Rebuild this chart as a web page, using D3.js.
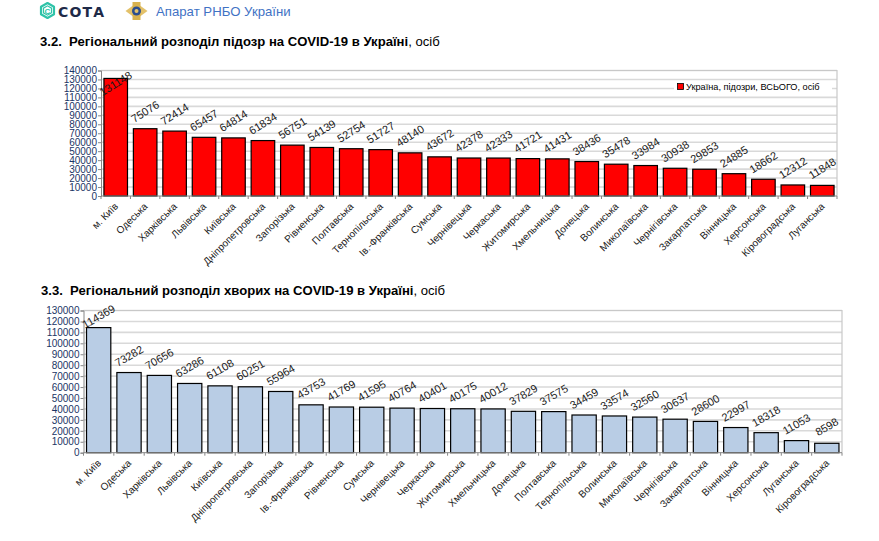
<!DOCTYPE html>
<html><head><meta charset="utf-8">
<script src="https://cdn.jsdelivr.net/npm/d3@7"></script>
<style>body{margin:0;background:#fff;} svg{display:block;font-family:"Liberation Sans",Arial,sans-serif;} .ttl{white-space:pre;}</style>
</head><body>
<svg id="c" width="879" height="541"></svg>
<script>
// ---- data ----
const suspectRegions = ["м. Київ","Одеська","Харківська","Львівська","Київська","Дніпропетровська","Запорізька","Рівненська","Полтавська","Тернопільська","Ів.-Франківська","Сумська","Чернівецька","Черкаська","Житомирська","Хмельницька","Донецька","Волинська","Миколаївська","Чернігівська","Закарпатська","Вінницька","Херсонська","Кіровоградська","Луганська"];
const suspectValues = [131148,75076,72414,65457,64814,61834,56751,54139,52754,51727,48140,43672,42378,42333,41721,41431,38436,35478,33984,30938,29853,24885,18662,12312,11848];
const sickRegions = ["м. Київ","Одеська","Харківська","Львівська","Київська","Дніпропетровська","Запорізька","Ів.-Франківська","Рівненська","Сумська","Чернівецька","Черкаська","Житомирська","Хмельницька","Донецька","Полтавська","Тернопільська","Волинська","Миколаївська","Чернігівська","Закарпатська","Вінницька","Херсонська","Луганська","Кіровоградська"];
const sickValues = [114369,73282,70656,63286,61108,60251,55964,43753,41769,41595,40764,40401,40175,40012,37829,37575,34459,33574,32560,30637,28600,22997,18318,11053,8598];
const suspectTicks = d3.range(0, 140001, 10000);
const sickTicks = d3.range(0, 130001, 10000);
const legendLabel = "Україна, підозри, ВСЬОГО, осіб";

const svg = d3.select("#c");

// ---- header ----
const hdr = svg.append("g");
const hx = 47.5, hy = 10.5, hr = 7.5;
const hexPts = d3.range(6).map(i => { const a = Math.PI/6 + i*Math.PI/3; return [hx + hr*Math.cos(a), hy + hr*Math.sin(a)]; });
hdr.append("path").attr("d", d3.line().curve(d3.curveLinearClosed)(hexPts)).attr("fill","none").attr("stroke","#2fc3a8").attr("stroke-width",2.2).attr("stroke-linejoin","round");
hdr.append("path").attr("d", d3.line().curve(d3.curveLinearClosed)(hexPts.map(p=>[hx+(p[0]-hx)*0.62, hy+(p[1]-hy)*0.62]))).attr("fill","none").attr("stroke","#2fc3a8").attr("stroke-width",1.2);
hdr.append("text").attr("x",hx).attr("y",hy+3).attr("text-anchor","middle").attr("font-size",8).attr("font-weight","bold").attr("fill","#2fc3a8").text("C");
hdr.append("text").attr("x",58).attr("y",17).attr("font-size",14).attr("font-weight","bold").attr("fill","#1e2a48").attr("letter-spacing",1.2).attr("font-family","Verdana,'DejaVu Sans',sans-serif").text("СОТА");
const ex = 136.5, ey = 11;
hdr.append("path").attr("d",`M${ex-11},${ey} L${ex},${ey-8} L${ex+11},${ey} L${ex},${ey+8}Z`).attr("fill","#e3c16a");
hdr.append("path").attr("d",`M${ex-4},${ey-9} L${ex+4},${ey-9} L${ex+4},${ey+9} L${ex-4},${ey+9}Z`).attr("fill","#d9b24e");
hdr.append("circle").attr("cx",ex).attr("cy",ey).attr("r",4.5).attr("fill","#2b4d8f");
hdr.append("circle").attr("cx",ex).attr("cy",ey).attr("r",2).attr("fill","#e3c16a");
hdr.append("text").attr("x",156).attr("y",16).attr("font-size",13.2).attr("fill","#3f72c4").text("Апарат РНБО України");

// ---- chart builder ----
function drawChart(o) {
  const g = svg.append("g");
  const x = d3.scaleBand().domain(o.cats).range([o.left, o.right]).paddingInner(0.2).paddingOuter(0.1);
  const y = d3.scaleLinear().domain([0, o.max]).range([o.bottom, o.top]);
  const t = g.append("text").attr("class","ttl").attr("x", o.titleX).attr("y", o.titleY).attr("font-size", 13.1).attr("fill","#000");
  t.append("tspan").attr("font-weight","bold").text(o.title);
  t.append("tspan").text(", осіб");
  g.append("g").selectAll("line").data(o.ticks.slice(1)).join("line")
    .attr("x1", o.left).attr("x2", o.right).attr("y1", d => y(d)).attr("y2", d => y(d))
    .attr("stroke", "#d9d9d9").attr("stroke-width", 1.6);
  g.append("path").attr("d", `M${o.left},${o.top} H${o.right} V${o.bottom}`).attr("fill","none").attr("stroke","#c8c8c8").attr("stroke-width",1.2);
  if (o.legend) {
    const lg = g.append("g");
    lg.append("rect").attr("x", 674).attr("y", 81).attr("width", 158).attr("height", 13).attr("fill", "#fff");
    lg.append("rect").attr("x", 677.5).attr("y", 83.5).attr("width", 6).attr("height", 6).attr("fill", o.fill).attr("stroke", "#000").attr("stroke-width", 0.8);
    lg.append("text").attr("x", 686).attr("y", 90).attr("font-size", 9.2).attr("fill", "#000").text(o.legend);
  }
  const ya = d3.axisLeft(y).tickValues(o.ticks).tickSize(3).tickFormat(d3.format("d"));
  const yg = g.append("g").attr("transform", `translate(${o.left},0)`).call(ya);
  yg.select(".domain").attr("stroke", "#868686");
  yg.selectAll(".tick line").attr("stroke", "#868686");
  yg.selectAll(".tick text").attr("font-size", 10).attr("fill", "#1b3565").attr("font-family","'Liberation Sans',Arial,sans-serif").attr("x", -4);
  g.append("g").selectAll("rect").data(o.vals).join("rect")
    .attr("x", (d,i) => x(o.cats[i])).attr("width", x.bandwidth())
    .attr("y", d => y(d)).attr("height", d => o.bottom - y(d))
    .attr("fill", o.fill).attr("stroke", "#000").attr("stroke-width", 1.2);
  const xa = g.append("g");
  xa.append("line").attr("x1", o.left).attr("x2", o.right).attr("y1", o.bottom).attr("y2", o.bottom).attr("stroke", "#868686");
  xa.selectAll(".tk").data(d3.range(o.cats.length + 1)).join("line").attr("class","tk")
    .attr("x1", i => o.left + i*(o.right-o.left)/o.cats.length).attr("x2", i => o.left + i*(o.right-o.left)/o.cats.length)
    .attr("y1", o.bottom).attr("y2", o.bottom + 3).attr("stroke", "#868686");
  xa.selectAll("text").data(o.cats).join("text")
    .attr("transform", d => `translate(${x(d) + x.bandwidth()/2 + 3},${o.bottom + 11}) rotate(-45)`)
    .attr("text-anchor", "end").attr("font-size", 10).attr("fill", "#1a1a1a").text(d => d);
  g.append("g").selectAll("text").data(o.vals).join("text")
    .attr("transform", (d,i) => {
      const cy = Math.max(y(d) - o.labOff, o.top + o.clamp);
      return `translate(${x(o.cats[i]) + x.bandwidth()/2},${cy}) rotate(${o.rot})`;
    })
    .attr("text-anchor", "middle").attr("dy", "0.35em").attr("font-size", 11).attr("fill", "#1a1a1a")
    .text(d => d);
}

drawChart({cats: suspectRegions, vals: suspectValues, ticks: suspectTicks, max: 140000,
  left: 101, right: 837, top: 70.5, bottom: 196, fill: "#ff0000",
  title: "3.2.  Регіональний розподіл підозр на COVID-19 в Україні", titleX: 40, titleY: 46,
  legend: legendLabel, labOff: 17, clamp: 13, rot: -32});
drawChart({cats: sickRegions, vals: sickValues, ticks: sickTicks, max: 130000,
  left: 83.5, right: 842, top: 310.5, bottom: 452.7, fill: "#b9cde5",
  title: "3.3.  Регіональний розподіл хворих на COVID-19 в Україні", titleX: 41, titleY: 295,
  legend: null, labOff: 16.5, clamp: 6, rot: -30});
</script>
</body></html>
